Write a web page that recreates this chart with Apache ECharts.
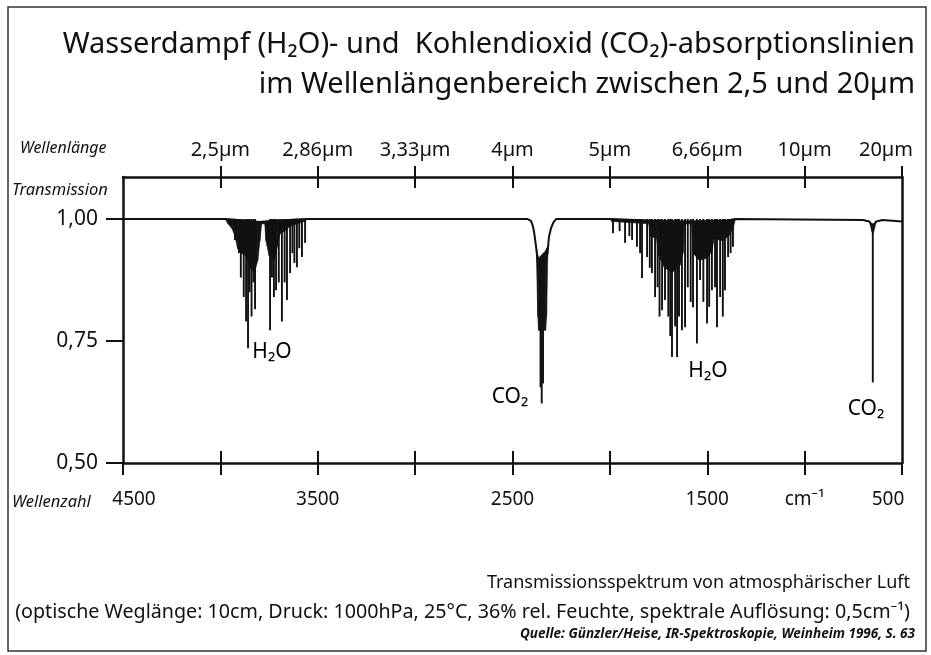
<!DOCTYPE html>
<html>
<head>
<meta charset="utf-8">
<title>Wasserdampf- und Kohlendioxid-Absorptionslinien</title>
<script src="https://cdn.jsdelivr.net/npm/echarts@6/dist/echarts.min.js"></script>
<style>
  html, body { margin: 0; padding: 0; background: #fff; }
  #chart { width: 931px; height: 655px; }
</style>
</head>
<body>
<div id="chart"></div>
<script>
// Achsen: Wellenzahl (cm-1) unten, Wellenlänge oben
const wnTicks = [4500, 4000, 3500, 3000, 2500, 2000, 1500, 1000, 500];
const wnLabels = [4500, 3500, 2500, 1500, 1000, 500];
const wlPos = [4000, 3500, 3000, 2500, 2000, 1500, 1000, 500];
const wlLabels = ['2,5µm', '2,86µm', '3,33µm', '4µm', '5µm', '6,66µm', '10µm', '20µm'];
const tTicks = [0.5, 0.75, 1.0];

// dünne Spektrumslinie
const outlineWn = [4500, 3975, 3900, 3800, 3700, 3550, 2425, 2405, 2395, 2388, 2378, 2369, 2350, 2320, 2313, 2303, 2290, 2275, 2000, 1800, 1600, 1400, 1355, 700, 668, 650, 632, 600, 500];
const outlineT = [1, 1, 0.997, 0.994, 0.997, 1, 1, 0.996, 0.985, 0.97, 0.94, 0.91, 0.88, 0.93, 0.963, 0.98, 0.993, 1, 1, 0.997, 0.995, 0.997, 1, 0.998, 0.995, 0.985, 0.995, 0.998, 0.995];

// dichte (schwarze) Bereiche: Ober- und Unterkante
const bandWn = [4500, 3975, 3961, 3940, 3925, 3912, 3895, 3870, 3850, 3825, 3808, 3797, 3788, 3772, 3766, 3750, 3725, 3706, 3694, 3670, 3642, 3607, 3570, 3550,
  2378, 2370, 2366, 2330, 2325, 2318,
  2000, 1990, 1800, 1794, 1760, 1750, 1720, 1680, 1640, 1624, 1618, 1580, 1573, 1540, 1500, 1475, 1465, 1420, 1390, 1368, 1355,
  668, 655, 650, 645, 632, 500];
const bandTop = [1, 1, 1, 1, 1, 0.999, 0.998, 0.997, 0.996, 0.995, 0.995, 0.995, 0.995, 0.995, 0.996, 0.996, 0.997, 0.997, 0.998, 0.998, 0.999, 1, 1, 1,
  0.94, 0.925, 0.92, 0.935, 0.94, 0.945,
  1, 1, 0.997, 0.997, 0.997, 0.997, 0.996, 0.996, 0.995, 0.995, 0.995, 0.995, 0.995, 0.995, 0.996, 0.996, 0.997, 0.997, 0.997, 0.998, 1,
  0.995, 0.99, 0.99, 0.99, 0.995, 1];
const bandBottom = [1, 1, 0.99, 0.98, 0.965, 0.94, 0.93, 0.925, 0.90, 0.89, 0.915, 0.955, 0.99, 0.99, 0.955, 0.925, 0.915, 0.945, 0.97, 0.975, 0.985, 0.99, 0.995, 1,
  0.94, 0.80, 0.772, 0.772, 0.80, 0.945,
  1, 0.995, 0.99, 0.965, 0.96, 0.925, 0.90, 0.89, 0.905, 0.93, 0.99, 0.99, 0.93, 0.915, 0.92, 0.935, 0.96, 0.955, 0.965, 0.98, 1,
  0.995, 0.975, 0.97, 0.975, 0.995, 1];

// einzelne Absorptionslinien
const lineWn = [3925, 3905, 3895, 3880, 3868, 3858, 3850, 3840, 3830, 3822, 3745, 3735, 3725, 3714, 3700, 3684, 3670, 3658, 3642, 3630, 3620, 3607, 3595, 3581, 3565,
  2356, 2350, 2343,
  1984, 1950, 1922, 1900, 1886, 1861, 1845, 1835, 1809, 1795, 1784, 1768, 1755, 1745, 1732, 1717, 1700, 1690, 1681, 1665, 1655, 1645, 1630, 1614, 1600, 1585,
  1573, 1553, 1537, 1520, 1501, 1490, 1476, 1460, 1450, 1434, 1420, 1409, 1393, 1380, 1368,
  650];
const lineTop = [1, 1, 1, 1, 1, 1, 1, 1, 1, 1, 1, 1, 1, 1, 1, 1, 1, 1, 1, 1, 1, 1, 1, 1, 1,
  0.78, 0.78, 0.78,
  1, 1, 1, 1, 1, 1, 1, 1, 1, 1, 1, 1, 1, 1, 1, 1, 1, 1, 1, 1, 1, 1, 1, 1, 1, 1,
  1, 1, 1, 1, 1, 1, 1, 1, 1, 1, 1, 1, 1, 1, 1,
  0.99];
const lineMin = [0.957, 0.93, 0.88, 0.84, 0.79, 0.735, 0.85, 0.80, 0.87, 0.815, 0.772, 0.88, 0.84, 0.854, 0.87, 0.79, 0.87, 0.834, 0.889, 0.93, 0.91, 0.901, 0.94, 0.922, 0.951,
  0.655, 0.622, 0.663,
  0.971, 0.975, 0.951, 0.965, 0.957, 0.943, 0.93, 0.879, 0.922, 0.90, 0.889, 0.84, 0.86, 0.80, 0.813, 0.834, 0.80, 0.76, 0.717, 0.78, 0.717, 0.80, 0.772, 0.778, 0.86, 0.83,
  0.819, 0.745, 0.875, 0.83, 0.786, 0.82, 0.854, 0.86, 0.778, 0.84, 0.80, 0.854, 0.922, 0.93, 0.943,
  0.665];

// Beschriftung der Banden
const annoWn = [3735, 2513, 1496, 685];
const annoT = [0.727, 0.635, 0.688, 0.610];
const annoText = ['H₂O', 'CO₂', 'H₂O', 'CO₂'];

const FONT = '"Noto Sans", "DejaVu Sans", sans-serif';
const INK = '#111';
const xMin = 500, xMax = 4500, yMin = 0.5, yMax = 1.086;

const chart = echarts.init(document.getElementById('chart'));

// Segmente der schwarzen Flächen (nur wo sie eine Dicke haben)
const bandSegs = [];
for (let i = 0; i < bandWn.length - 1; i++) {
  const thick = bandTop[i] - bandBottom[i] > 0 || bandTop[i + 1] - bandBottom[i + 1] > 0;
  if (thick) {
    bandSegs.push([bandWn[i], bandTop[i], bandBottom[i], bandWn[i + 1], bandTop[i + 1], bandBottom[i + 1]]);
  }
}

const baseX = {
  type: 'value', min: xMin, max: xMax, inverse: true,
  splitLine: {show: false}
};

const option = {
  animation: false,
  backgroundColor: '#fff',
  grid: {left: 123, right: 29, top: 177, bottom: 192},
  xAxis: [
    // unten, Striche nach außen + Zahlen
    Object.assign({}, baseX, {
      position: 'bottom',
      axisLine: {lineStyle: {color: INK, width: 2.5}},
      axisTick: {show: true, inside: false, length: 12, lineStyle: {color: INK, width: 2}, customValues: wnTicks},
      axisLabel: {
        customValues: wnLabels, margin: 27, color: INK, fontFamily: FONT, fontSize: 19,
        formatter: v => v === 4500 ? '{l|4500}' : v === 500 ? '{r|500}' : v === 1000 ? 'cm⁻¹' : String(v),
        rich: {
          l: {padding: [0, 0, 0, 22], fontSize: 19, fontFamily: FONT, color: INK},
          r: {padding: [0, 28, 0, 0], fontSize: 19, fontFamily: FONT, color: INK}
        }
      }
    }),
    // unten, Striche nach innen
    Object.assign({}, baseX, {
      position: 'bottom',
      axisLine: {show: false},
      axisTick: {show: true, inside: true, length: 12, lineStyle: {color: INK, width: 2}, customValues: wnTicks.slice(1, -1)},
      axisLabel: {show: false}
    }),
    // oben, Wellenlängen
    Object.assign({}, baseX, {
      position: 'top',
      axisLine: {lineStyle: {color: INK, width: 2.5}},
      axisTick: {show: true, inside: false, length: 11, lineStyle: {color: INK, width: 2}, customValues: wlPos},
      axisLabel: {
        customValues: wlPos, margin: 17, color: INK, fontFamily: FONT, fontSize: 20,
        formatter: v => {
          const s = wlLabels[wlPos.indexOf(v)];
          return v === 500 ? '{r|' + s + '}' : s;
        },
        rich: {r: {padding: [0, 32, 0, 0], fontSize: 20, fontFamily: FONT, color: INK}}
      }
    }),
    Object.assign({}, baseX, {
      position: 'top',
      axisLine: {show: false},
      axisTick: {show: true, inside: true, length: 11, lineStyle: {color: INK, width: 2}, customValues: wlPos.slice(0, -1)},
      axisLabel: {show: false}
    })
  ],
  yAxis: [
    {
      type: 'value', min: yMin, max: yMax, position: 'left',
      splitLine: {show: false},
      axisLine: {show: true, lineStyle: {color: INK, width: 2.5}},
      axisTick: {show: true, length: 17, lineStyle: {color: INK, width: 2}, customValues: tTicks},
      axisLabel: {
        customValues: tTicks, margin: 25, color: INK, fontFamily: FONT, fontSize: 21,
        formatter: v => v.toFixed(2).replace('.', ',')
      }
    },
    {
      type: 'value', min: yMin, max: yMax, position: 'right',
      splitLine: {show: false},
      axisLine: {show: true, lineStyle: {color: INK, width: 2.5}},
      axisTick: {show: false},
      axisLabel: {show: false}
    }
  ],
  series: [
    {
      name: 'Banden', type: 'custom', silent: true, z: 2,
      encode: {x: [0, 3], y: [1, 2, 4, 5]},
      renderItem: (params, api) => {
        const pts = [
          api.coord([api.value(0), api.value(1)]),
          api.coord([api.value(3), api.value(4)]),
          api.coord([api.value(3), api.value(5)]),
          api.coord([api.value(0), api.value(2)])
        ];
        return {type: 'polygon', shape: {points: pts}, style: {fill: INK, stroke: INK, lineWidth: 0.6}};
      },
      data: bandSegs
    },
    {
      name: 'Transmission', type: 'line', symbol: 'none', silent: true, z: 3,
      lineStyle: {color: INK, width: 2},
      data: outlineWn.map((w, i) => [w, outlineT[i]])
    },
    {
      name: 'Linien', type: 'custom', silent: true, z: 4,
      encode: {x: 0, y: [1, 2]},
      renderItem: (params, api) => {
        const a = api.coord([api.value(0), api.value(1)]);
        const b = api.coord([api.value(0), api.value(2)]);
        return {
          type: 'line',
          shape: {x1: a[0], y1: a[1], x2: b[0], y2: b[1]},
          style: {stroke: INK, lineWidth: 1.9}
        };
      },
      data: lineWn.map((w, i) => [w, lineTop[i], lineMin[i]])
    },
    {
      name: 'Beschriftung', type: 'scatter', silent: true, z: 5,
      symbolSize: 0.1, itemStyle: {color: INK},
      label: {
        show: true, position: 'inside', color: '#000', opacity: 1, fontFamily: FONT, fontSize: 21,
        formatter: p => annoText[p.dataIndex]
      },
      data: annoWn.map((w, i) => [w, annoT[i]])
    }
  ],
  graphic: [
    {type: 'rect', shape: {x: 8, y: 7, width: 918, height: 644}, style: {fill: 'none', stroke: '#333', lineWidth: 1.5}},
    {type: 'text', x: 915, y: 45, style: {text: 'Wasserdampf (H₂O)- und  Kohlendioxid (CO₂)-absorptionslinien', textAlign: 'right', textVerticalAlign: 'middle', font: '29px ' + FONT, fill: INK}},
    {type: 'text', x: 915, y: 85, style: {text: 'im Wellenlängenbereich zwischen 2,5 und 20µm', textAlign: 'right', textVerticalAlign: 'middle', font: '29px ' + FONT, fill: INK}},
    {type: 'text', x: 20, y: 148, style: {text: 'Wellenlänge', textVerticalAlign: 'middle', font: 'italic 16px ' + FONT, fill: INK}},
    {type: 'text', x: 12, y: 190, style: {text: 'Transmission', textVerticalAlign: 'middle', font: 'italic 16.5px ' + FONT, fill: INK}},
    {type: 'text', x: 12, y: 502, style: {text: 'Wellenzahl', textVerticalAlign: 'middle', font: 'italic 16.5px ' + FONT, fill: INK}},
    {type: 'text', x: 910, y: 583, style: {text: 'Transmissionsspektrum von atmosphärischer Luft', textAlign: 'right', textVerticalAlign: 'middle', font: '18px ' + FONT, fill: INK}},
    {type: 'text', x: 910, y: 612, style: {text: '(optische Weglänge: 10cm, Druck: 1000hPa, 25°C, 36% rel. Feuchte, spektrale Auflösung: 0,5cm⁻¹)', textAlign: 'right', textVerticalAlign: 'middle', font: '19.7px ' + FONT, fill: INK}},
    {type: 'text', x: 915, y: 634, style: {text: 'Quelle: Günzler/Heise, IR-Spektroskopie, Weinheim 1996, S. 63', textAlign: 'right', textVerticalAlign: 'middle', font: 'italic bold 13.5px ' + FONT, fill: INK}}
  ]
};

chart.setOption(option);
window.addEventListener('resize', () => chart.resize());
</script>
</body>
</html>
